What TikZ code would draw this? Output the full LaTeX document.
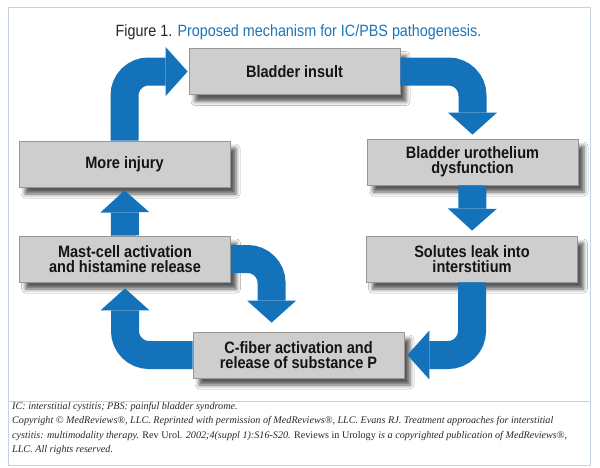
\documentclass[tikz,border=0pt]{standalone}
\usepackage{fontspec}
\setmainfont{Liberation Serif}
\newfontfamily\condfont[FakeStretch=0.88]{Liberation Sans}
\usetikzlibrary{arrows.meta,shadows.blur,calc}
\definecolor{arrowblue}{RGB}{20,114,186}
\definecolor{titleblue}{RGB}{27,117,187}
\definecolor{boxgray}{RGB}{206,206,206}
\definecolor{boxedge}{RGB}{150,150,150}
\definecolor{framecol}{RGB}{196,210,228}
\definecolor{foottext}{RGB}{40,40,40}
\pgfdeclarelayer{bg}
\pgfsetlayers{bg,main}
\newcommand\flowarr[2][]{%
  \begin{pgfonlayer}{bg}
  \draw[flow,draw=black,opacity=0.16,transform canvas={shift={(8pt,-8pt)}},#1] #2;
  \draw[flow,draw=black,opacity=0.24,transform canvas={shift={(6pt,-6pt)}},#1] #2;
  \end{pgfonlayer}
  \draw[flow,#1] #2;}
\begin{document}
\begin{tikzpicture}[x=1pt,y=-1pt,
  stepbox/.style={rectangle, fill=boxgray, draw=boxedge, line width=0.8pt,
    minimum width=211pt, minimum height=46pt, inner sep=0pt, align=center,
    font=\condfont\bfseries\fontsize{16.5}{15}\selectfont, text=black!92,
    blur shadow={shadow xshift=6pt, shadow yshift=-7pt, shadow blur radius=4pt, shadow opacity=65}},
  flow/.style={draw=arrowblue, line width=28pt, rounded corners=24pt,
    -{Triangle[width=49pt,length=22pt,line width=0pt]}, shorten >=4pt},
  footline/.style={anchor=base west, inner sep=0pt, text=foottext,
    font=\fontsize{10.15}{14.3}\selectfont},
]
\useasboundingbox (0,0) rectangle (600,467);
\fill[white] (0,0) rectangle (600,467);
\draw[framecol, line width=1pt] (8,7) rectangle (590,465);
\draw[framecol, line width=1pt] (8,401) -- (590,401);

\node[anchor=base, inner sep=0pt, text=black!85,
  font=\condfont\fontsize{16.3}{18}\selectfont] (title) at (298.5,36.7)
  {Figure 1. \textcolor{titleblue}{Proposed mechanism for IC/PBS pathogenesis.}};

\node[stepbox] (ins)  at (294.5,71.5) {Bladder insult};
\node[stepbox] (uro)  at (472.5,162)  {Bladder urothelium\\dysfunction};
\node[stepbox] (sol)  at (472,259)    {Solutes leak into\\interstitium};
\node[stepbox] (cf)   at (298.5,355)  {C-fiber activation and\\release of substance P};
\node[stepbox] (mast) at (125,259)    {Mast-cell activation\\and histamine release};
\node[stepbox] (inj)  at (124.5,164)  {More injury};
\coordinate (cft) at ($(cf.north west)+(79,-9)$);

\flowarr[shorten >=1pt]{(inj.north) |- (ins.west)}
\flowarr{(ins.east) -| (uro.north)}
\flowarr[shorten >=5pt]{(uro.south) -- (sol.north)}
\flowarr[shorten >=3pt]{(sol.south) |- (cf.east)}
\flowarr[shorten >=6pt]{(cf.west) -| (mast.south)}
\flowarr[shorten >=0pt]{(mast.east) -| (cft)}
\flowarr[shorten >=3pt]{(mast.north) -- (inj.south)}

\node[footline] (f1) at (12,409) {\itshape IC: interstitial cystitis; PBS: painful bladder syndrome.};
\node[footline] (f2) at (12,423.5) {\itshape Copyright © MedReviews®, LLC. Reprinted with permission of MedReviews®, LLC. Evans RJ. Treatment approaches for interstitial};
\node[footline] (f3) at (12,438) {{\itshape cystitis: multimodality therapy.} Rev Urol. {\itshape 2002;4(suppl 1):S16-S20.} Reviews in Urology {\itshape is a copyrighted publication of MedReviews®,}};
\node[footline] (f4) at (12,452) {\itshape LLC. All rights reserved.};
\end{tikzpicture}
\end{document}
